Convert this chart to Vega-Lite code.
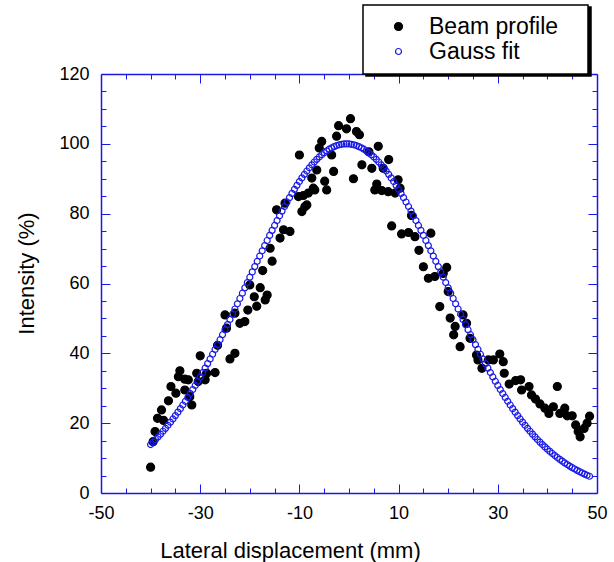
{
"$schema": "https://vega.github.io/schema/vega-lite/v6.json",
"width": 496, "height": 419,
"autosize": "none",
"padding": {"left": 101, "top": 74, "right": 17, "bottom": 69},
"background": "white",
"config": {"view": {"stroke": null}, "font": "Liberation Sans",
  "legend": {"orient": "none", "padding": 10, "strokeWidth": 1.5, "labelFontSize": 23, "labelFont": "Liberation Sans", "labelColor": "black", "symbolOffset": 14, "labelOffset": 19, "rowPadding": 1, "symbolStrokeWidth": 1.2, "titleFontSize": 1, "titleOrient": "right", "titlePadding": 20}
},
"datasets": {
"pts": [
{"series":"Beam profile","x":-40.0,"y":7.4},{"series":"Beam profile","x":-39.5,"y":14.7},{"series":"Beam profile","x":-39.1,"y":17.6},{"series":"Beam profile","x":-38.6,"y":21.4},{"series":"Beam profile","x":-37.8,"y":23.8},{"series":"Beam profile","x":-37.4,"y":20.8},{"series":"Beam profile","x":-36.4,"y":26.4},{"series":"Beam profile","x":-35.9,"y":30.5},{"series":"Beam profile","x":-34.9,"y":28.6},{"series":"Beam profile","x":-34.4,"y":33.3},{"series":"Beam profile","x":-34.1,"y":35.0},{"series":"Beam profile","x":-33.1,"y":32.6},{"series":"Beam profile","x":-33.1,"y":29.5},{"series":"Beam profile","x":-32.4,"y":32.4},{"series":"Beam profile","x":-32.1,"y":27.6},{"series":"Beam profile","x":-31.7,"y":25.2},{"series":"Beam profile","x":-30.7,"y":34.3},{"series":"Beam profile","x":-30.4,"y":31.9},{"series":"Beam profile","x":-30.0,"y":39.3},{"series":"Beam profile","x":-29.0,"y":32.4},{"series":"Beam profile","x":-28.7,"y":34.3},{"series":"Beam profile","x":-27.0,"y":34.5},{"series":"Beam profile","x":-26.5,"y":42.3},{"series":"Beam profile","x":-25.0,"y":51.0},{"series":"Beam profile","x":-24.7,"y":47.2},{"series":"Beam profile","x":-24.0,"y":38.4},{"series":"Beam profile","x":-23.0,"y":40.0},{"series":"Beam profile","x":-23.0,"y":51.5},{"series":"Beam profile","x":-22.0,"y":48.6},{"series":"Beam profile","x":-21.0,"y":49.1},{"series":"Beam profile","x":-20.4,"y":52.4},{"series":"Beam profile","x":-20.0,"y":59.6},{"series":"Beam profile","x":-19.1,"y":56.2},{"series":"Beam profile","x":-18.6,"y":53.5},{"series":"Beam profile","x":-17.9,"y":58.8},{"series":"Beam profile","x":-17.4,"y":63.7},{"series":"Beam profile","x":-16.9,"y":55.3},{"series":"Beam profile","x":-16.5,"y":56.7},{"series":"Beam profile","x":-15.9,"y":70.1},{"series":"Beam profile","x":-15.5,"y":66.4},{"series":"Beam profile","x":-14.6,"y":81.1},{"series":"Beam profile","x":-13.9,"y":73.0},{"series":"Beam profile","x":-13.2,"y":75.4},{"series":"Beam profile","x":-12.9,"y":83.0},{"series":"Beam profile","x":-11.9,"y":74.9},{"series":"Beam profile","x":-10.2,"y":84.9},{"series":"Beam profile","x":-10.0,"y":96.8},{"series":"Beam profile","x":-9.5,"y":80.6},{"series":"Beam profile","x":-9.2,"y":85.2},{"series":"Beam profile","x":-8.9,"y":82.0},{"series":"Beam profile","x":-8.5,"y":82.5},{"series":"Beam profile","x":-8.2,"y":85.9},{"series":"Beam profile","x":-7.5,"y":90.2},{"series":"Beam profile","x":-7.2,"y":87.3},{"series":"Beam profile","x":-6.9,"y":86.8},{"series":"Beam profile","x":-6.5,"y":92.5},{"series":"Beam profile","x":-6.0,"y":98.8},{"series":"Beam profile","x":-5.5,"y":100.7},{"series":"Beam profile","x":-4.9,"y":89.3},{"series":"Beam profile","x":-4.5,"y":86.8},{"series":"Beam profile","x":-3.5,"y":96.8},{"series":"Beam profile","x":-3.1,"y":92.1},{"series":"Beam profile","x":-2.5,"y":102.2},{"series":"Beam profile","x":-2.1,"y":105.2},{"series":"Beam profile","x":-0.5,"y":104.3},{"series":"Beam profile","x":0.3,"y":107.2},{"series":"Beam profile","x":0.9,"y":90.0},{"series":"Beam profile","x":1.5,"y":103.5},{"series":"Beam profile","x":2.1,"y":102.6},{"series":"Beam profile","x":2.6,"y":94.0},{"series":"Beam profile","x":4.0,"y":97.7},{"series":"Beam profile","x":4.6,"y":93.0},{"series":"Beam profile","x":5.2,"y":86.8},{"series":"Beam profile","x":5.6,"y":88.5},{"series":"Beam profile","x":5.9,"y":99.3},{"series":"Beam profile","x":6.6,"y":86.6},{"series":"Beam profile","x":6.9,"y":93.0},{"series":"Beam profile","x":7.9,"y":86.3},{"series":"Beam profile","x":8.0,"y":95.5},{"series":"Beam profile","x":8.6,"y":76.5},{"series":"Beam profile","x":9.3,"y":85.9},{"series":"Beam profile","x":9.9,"y":89.7},{"series":"Beam profile","x":10.3,"y":87.3},{"series":"Beam profile","x":10.6,"y":74.2},{"series":"Beam profile","x":12.0,"y":74.6},{"series":"Beam profile","x":12.6,"y":79.5},{"series":"Beam profile","x":13.3,"y":73.4},{"series":"Beam profile","x":14.1,"y":69.5},{"series":"Beam profile","x":15.0,"y":64.8},{"series":"Beam profile","x":16.0,"y":61.5},{"series":"Beam profile","x":16.5,"y":74.4},{"series":"Beam profile","x":17.3,"y":62.0},{"series":"Beam profile","x":18.3,"y":53.4},{"series":"Beam profile","x":19.0,"y":62.9},{"series":"Beam profile","x":19.7,"y":64.6},{"series":"Beam profile","x":20.0,"y":57.7},{"series":"Beam profile","x":20.4,"y":50.1},{"series":"Beam profile","x":21.1,"y":45.3},{"series":"Beam profile","x":21.4,"y":47.7},{"series":"Beam profile","x":22.4,"y":41.9},{"series":"Beam profile","x":23.0,"y":51.0},{"series":"Beam profile","x":23.7,"y":48.6},{"series":"Beam profile","x":24.4,"y":44.3},{"series":"Beam profile","x":25.7,"y":39.5},{"series":"Beam profile","x":26.0,"y":38.1},{"series":"Beam profile","x":26.8,"y":35.7},{"series":"Beam profile","x":28.1,"y":38.1},{"series":"Beam profile","x":29.1,"y":38.1},{"series":"Beam profile","x":30.4,"y":39.8},{"series":"Beam profile","x":31.1,"y":37.6},{"series":"Beam profile","x":31.3,"y":34.3},{"series":"Beam profile","x":32.3,"y":31.2},{"series":"Beam profile","x":33.6,"y":32.2},{"series":"Beam profile","x":34.6,"y":32.4},{"series":"Beam profile","x":34.8,"y":29.5},{"series":"Beam profile","x":36.3,"y":30.5},{"series":"Beam profile","x":36.8,"y":28.1},{"series":"Beam profile","x":37.6,"y":26.9},{"series":"Beam profile","x":38.5,"y":25.5},{"series":"Beam profile","x":39.5,"y":24.3},{"series":"Beam profile","x":40.3,"y":22.8},{"series":"Beam profile","x":41.2,"y":24.7},{"series":"Beam profile","x":42.0,"y":30.5},{"series":"Beam profile","x":42.5,"y":22.8},{"series":"Beam profile","x":43.5,"y":24.3},{"series":"Beam profile","x":44.0,"y":22.1},{"series":"Beam profile","x":45.0,"y":22.1},{"series":"Beam profile","x":45.7,"y":19.5},{"series":"Beam profile","x":46.2,"y":17.6},{"series":"Beam profile","x":46.6,"y":16.1},{"series":"Beam profile","x":47.4,"y":18.5},{"series":"Beam profile","x":48.0,"y":20.0},{"series":"Beam profile","x":48.5,"y":22.0},
{"series":"Gauss fit","x":-40,"y":13.88},{"series":"Gauss fit","x":-39.5,"y":14.58},{"series":"Gauss fit","x":-39,"y":15.32},{"series":"Gauss fit","x":-38.5,"y":16.08},{"series":"Gauss fit","x":-38,"y":16.86},{"series":"Gauss fit","x":-37.5,"y":17.68},{"series":"Gauss fit","x":-37,"y":18.52},{"series":"Gauss fit","x":-36.5,"y":19.39},{"series":"Gauss fit","x":-36,"y":20.29},{"series":"Gauss fit","x":-35.5,"y":21.21},{"series":"Gauss fit","x":-35,"y":22.17},{"series":"Gauss fit","x":-34.5,"y":23.15},{"series":"Gauss fit","x":-34,"y":24.16},{"series":"Gauss fit","x":-33.5,"y":25.20},{"series":"Gauss fit","x":-33,"y":26.26},{"series":"Gauss fit","x":-32.5,"y":27.36},{"series":"Gauss fit","x":-32,"y":28.48},{"series":"Gauss fit","x":-31.5,"y":29.62},{"series":"Gauss fit","x":-31,"y":30.80},{"series":"Gauss fit","x":-30.5,"y":32.00},{"series":"Gauss fit","x":-30,"y":33.24},{"series":"Gauss fit","x":-29.5,"y":34.49},{"series":"Gauss fit","x":-29,"y":35.77},{"series":"Gauss fit","x":-28.5,"y":37.06},{"series":"Gauss fit","x":-28,"y":38.39},{"series":"Gauss fit","x":-27.5,"y":39.74},{"series":"Gauss fit","x":-27,"y":41.11},{"series":"Gauss fit","x":-26.5,"y":42.50},{"series":"Gauss fit","x":-26,"y":43.90},{"series":"Gauss fit","x":-25.5,"y":45.33},{"series":"Gauss fit","x":-25,"y":46.77},{"series":"Gauss fit","x":-24.5,"y":48.23},{"series":"Gauss fit","x":-24,"y":49.70},{"series":"Gauss fit","x":-23.5,"y":51.19},{"series":"Gauss fit","x":-23,"y":52.69},{"series":"Gauss fit","x":-22.5,"y":54.19},{"series":"Gauss fit","x":-22,"y":55.70},{"series":"Gauss fit","x":-21.5,"y":57.22},{"series":"Gauss fit","x":-21,"y":58.75},{"series":"Gauss fit","x":-20.5,"y":60.27},{"series":"Gauss fit","x":-20,"y":61.80},{"series":"Gauss fit","x":-19.5,"y":63.32},{"series":"Gauss fit","x":-19,"y":64.84},{"series":"Gauss fit","x":-18.5,"y":66.36},{"series":"Gauss fit","x":-18,"y":67.86},{"series":"Gauss fit","x":-17.5,"y":69.36},{"series":"Gauss fit","x":-17,"y":70.85},{"series":"Gauss fit","x":-16.5,"y":72.32},{"series":"Gauss fit","x":-16,"y":73.78},{"series":"Gauss fit","x":-15.5,"y":75.22},{"series":"Gauss fit","x":-15,"y":76.63},{"series":"Gauss fit","x":-14.5,"y":78.03},{"series":"Gauss fit","x":-14,"y":79.40},{"series":"Gauss fit","x":-13.5,"y":80.74},{"series":"Gauss fit","x":-13,"y":82.05},{"series":"Gauss fit","x":-12.5,"y":83.34},{"series":"Gauss fit","x":-12,"y":84.59},{"series":"Gauss fit","x":-11.5,"y":85.80},{"series":"Gauss fit","x":-11,"y":86.97},{"series":"Gauss fit","x":-10.5,"y":88.11},{"series":"Gauss fit","x":-10,"y":89.20},{"series":"Gauss fit","x":-9.5,"y":90.25},{"series":"Gauss fit","x":-9,"y":91.26},{"series":"Gauss fit","x":-8.5,"y":92.22},{"series":"Gauss fit","x":-8,"y":93.13},{"series":"Gauss fit","x":-7.5,"y":93.99},{"series":"Gauss fit","x":-7,"y":94.79},{"series":"Gauss fit","x":-6.5,"y":95.55},{"series":"Gauss fit","x":-6,"y":96.24},{"series":"Gauss fit","x":-5.5,"y":96.88},{"series":"Gauss fit","x":-5,"y":97.47},{"series":"Gauss fit","x":-4.5,"y":97.99},{"series":"Gauss fit","x":-4,"y":98.46},{"series":"Gauss fit","x":-3.5,"y":98.87},{"series":"Gauss fit","x":-3,"y":99.21},{"series":"Gauss fit","x":-2.5,"y":99.50},{"series":"Gauss fit","x":-2,"y":99.72},{"series":"Gauss fit","x":-1.5,"y":99.87},{"series":"Gauss fit","x":-1,"y":99.97},{"series":"Gauss fit","x":-0.5,"y":100.0},{"series":"Gauss fit","x":0,"y":99.97},{"series":"Gauss fit","x":0.5,"y":99.87},{"series":"Gauss fit","x":1,"y":99.72},{"series":"Gauss fit","x":1.5,"y":99.50},{"series":"Gauss fit","x":2,"y":99.21},{"series":"Gauss fit","x":2.5,"y":98.87},{"series":"Gauss fit","x":3,"y":98.46},{"series":"Gauss fit","x":3.5,"y":97.99},{"series":"Gauss fit","x":4,"y":97.47},{"series":"Gauss fit","x":4.5,"y":96.88},{"series":"Gauss fit","x":5,"y":96.24},{"series":"Gauss fit","x":5.5,"y":95.55},{"series":"Gauss fit","x":6,"y":94.79},{"series":"Gauss fit","x":6.5,"y":93.99},{"series":"Gauss fit","x":7,"y":93.13},{"series":"Gauss fit","x":7.5,"y":92.22},{"series":"Gauss fit","x":8,"y":91.26},{"series":"Gauss fit","x":8.5,"y":90.25},{"series":"Gauss fit","x":9,"y":89.20},{"series":"Gauss fit","x":9.5,"y":88.11},{"series":"Gauss fit","x":10,"y":86.97},{"series":"Gauss fit","x":10.5,"y":85.80},{"series":"Gauss fit","x":11,"y":84.59},{"series":"Gauss fit","x":11.5,"y":83.34},{"series":"Gauss fit","x":12,"y":82.05},{"series":"Gauss fit","x":12.5,"y":80.74},{"series":"Gauss fit","x":13,"y":79.40},{"series":"Gauss fit","x":13.5,"y":78.03},{"series":"Gauss fit","x":14,"y":76.63},{"series":"Gauss fit","x":14.5,"y":75.22},{"series":"Gauss fit","x":15,"y":73.78},{"series":"Gauss fit","x":15.5,"y":72.32},{"series":"Gauss fit","x":16,"y":70.85},{"series":"Gauss fit","x":16.5,"y":69.36},{"series":"Gauss fit","x":17,"y":67.86},{"series":"Gauss fit","x":17.5,"y":66.36},{"series":"Gauss fit","x":18,"y":64.84},{"series":"Gauss fit","x":18.5,"y":63.32},{"series":"Gauss fit","x":19,"y":61.80},{"series":"Gauss fit","x":19.5,"y":60.27},{"series":"Gauss fit","x":20,"y":58.75},{"series":"Gauss fit","x":20.5,"y":57.22},{"series":"Gauss fit","x":21,"y":55.70},{"series":"Gauss fit","x":21.5,"y":54.19},{"series":"Gauss fit","x":22,"y":52.69},{"series":"Gauss fit","x":22.5,"y":51.19},{"series":"Gauss fit","x":23,"y":49.70},{"series":"Gauss fit","x":23.5,"y":48.23},{"series":"Gauss fit","x":24,"y":46.77},{"series":"Gauss fit","x":24.5,"y":45.33},{"series":"Gauss fit","x":25,"y":43.90},{"series":"Gauss fit","x":25.5,"y":42.50},{"series":"Gauss fit","x":26,"y":41.11},{"series":"Gauss fit","x":26.5,"y":39.74},{"series":"Gauss fit","x":27,"y":38.39},{"series":"Gauss fit","x":27.5,"y":37.06},{"series":"Gauss fit","x":28,"y":35.77},{"series":"Gauss fit","x":28.5,"y":34.49},{"series":"Gauss fit","x":29,"y":33.24},{"series":"Gauss fit","x":29.5,"y":32.00},{"series":"Gauss fit","x":30,"y":30.80},{"series":"Gauss fit","x":30.5,"y":29.62},{"series":"Gauss fit","x":31,"y":28.48},{"series":"Gauss fit","x":31.5,"y":27.36},{"series":"Gauss fit","x":32,"y":26.26},{"series":"Gauss fit","x":32.5,"y":25.20},{"series":"Gauss fit","x":33,"y":24.16},{"series":"Gauss fit","x":33.5,"y":23.15},{"series":"Gauss fit","x":34,"y":22.17},{"series":"Gauss fit","x":34.5,"y":21.21},{"series":"Gauss fit","x":35,"y":20.29},{"series":"Gauss fit","x":35.5,"y":19.39},{"series":"Gauss fit","x":36,"y":18.52},{"series":"Gauss fit","x":36.5,"y":17.68},{"series":"Gauss fit","x":37,"y":16.86},{"series":"Gauss fit","x":37.5,"y":16.08},{"series":"Gauss fit","x":38,"y":15.32},{"series":"Gauss fit","x":38.5,"y":14.58},{"series":"Gauss fit","x":39,"y":13.88},{"series":"Gauss fit","x":39.5,"y":13.20},{"series":"Gauss fit","x":40,"y":12.54},{"series":"Gauss fit","x":40.5,"y":11.91},{"series":"Gauss fit","x":41,"y":11.31},{"series":"Gauss fit","x":41.5,"y":10.72},{"series":"Gauss fit","x":42,"y":10.16},{"series":"Gauss fit","x":42.5,"y":9.63},{"series":"Gauss fit","x":43,"y":9.12},{"series":"Gauss fit","x":43.5,"y":8.62},{"series":"Gauss fit","x":44,"y":8.15},{"series":"Gauss fit","x":44.5,"y":7.70},{"series":"Gauss fit","x":45,"y":7.28},{"series":"Gauss fit","x":45.5,"y":6.87},{"series":"Gauss fit","x":46,"y":6.48},{"series":"Gauss fit","x":46.5,"y":6.10},{"series":"Gauss fit","x":47,"y":5.75},{"series":"Gauss fit","x":47.5,"y":5.41},{"series":"Gauss fit","x":48,"y":5.09},{"series":"Gauss fit","x":48.5,"y":4.79}
]
},
"data": {"name": "pts"},
"layer": [
{
 "mark": {"type": "point", "filled": false, "strokeWidth": 1.2, "opacity": 1},
 "encoding": {
  "x": {"field": "x", "type": "quantitative", "scale": {"domain": [-50, 50], "nice": false, "zero": false},
   "axis": {"orient": "bottom", "title": "Lateral displacement (mm)", "values": [-50,-45,-40,-35,-30,-25,-20,-15,-10,-5,0,5,10,15,20,25,30,35,40,45,50],
    "labelExpr": "(datum.value + 50) % 20 == 0 ? '' + datum.value : ''", "labelOverlap": false, "labelFlush": false, "labelFontSize": 18, "labelColor": "black", "labelPadding": 20,
    "tickSize": {"condition": {"test": "(datum.value + 50) % 20 == 0", "value": -9}, "value": -5},
    "tickColor": "#1a1ae6", "domainColor": "#1a1ae6", "domainWidth": 1.5, "tickWidth": 1, "grid": false,
    "titleFontSize": 22, "titleFontWeight": "normal", "titleColor": "black", "titleX": 189, "titleY": 64, "titleBaseline": "alphabetic", "titleAlign": "center", "titleAnchor": null}},
  "y": {"field": "y", "type": "quantitative", "scale": {"domain": [0, 120], "nice": false, "zero": false},
   "axis": {"orient": "left", "title": "Intensity (%)", "values": [0,5,10,15,20,25,30,35,40,45,50,55,60,65,70,75,80,85,90,95,100,105,110,115,120],
    "labelExpr": "datum.value % 20 == 0 ? '' + datum.value : ''", "labelOverlap": false, "labelFlush": false, "labelFontSize": 18, "labelColor": "black", "labelPadding": 21,
    "tickSize": {"condition": {"test": "datum.value % 20 == 0", "value": -9}, "value": -5},
    "tickColor": "#1a1ae6", "domainColor": "#1a1ae6", "domainWidth": 1.5, "tickWidth": 1, "grid": false,
    "titleFontSize": 22, "titleFontWeight": "normal", "titleColor": "black", "titleX": -68, "titleY": 199, "titleAngle": -90, "titleBaseline": "alphabetic", "titleAlign": "center", "titleAnchor": null}},
  "stroke": {"field": "series", "type": "nominal", "scale": {"domain": ["Beam profile", "Gauss fit"], "range": ["#000000", "#1a1ae6"]},
   "legend": {"title": " ", "legendX": 262, "legendY": -69, "fillColor": "white", "strokeColor": "black", "zindex": 2}},
  "fill": {"field": "series", "type": "nominal", "scale": {"domain": ["Beam profile", "Gauss fit"], "range": ["#000000", "transparent"]},
   "legend": {"title": " ", "legendX": 262, "legendY": -69, "fillColor": "white", "strokeColor": "black", "zindex": 2}},
  "size": {"field": "series", "type": "nominal", "scale": {"domain": ["Beam profile", "Gauss fit"], "range": [64, 36]},
   "legend": {"title": " ", "legendX": 262, "legendY": -69, "fillColor": "white", "strokeColor": "black", "zindex": 2}}
 }
},
{
 "mark": {"type": "point", "opacity": 0},
 "encoding": {
  "x": {"field": "x", "type": "quantitative", "scale": {"domain": [-50, 50], "nice": false, "zero": false},
   "axis": {"orient": "top", "title": null, "labels": false, "values": [-50,-45,-40,-35,-30,-25,-20,-15,-10,-5,0,5,10,15,20,25,30,35,40,45,50],
    "tickSize": {"condition": {"test": "(datum.value + 50) % 20 == 0", "value": -9}, "value": -5},
    "tickColor": "#1a1ae6", "domainColor": "#1a1ae6", "domainWidth": 1.5, "tickWidth": 1, "grid": false}},
  "y": {"field": "y", "type": "quantitative", "scale": {"domain": [0, 120], "nice": false, "zero": false},
   "axis": {"orient": "right", "title": null, "labels": false, "values": [0,5,10,15,20,25,30,35,40,45,50,55,60,65,70,75,80,85,90,95,100,105,110,115,120],
    "tickSize": {"condition": {"test": "datum.value % 20 == 0", "value": -9}, "value": -5},
    "tickColor": "#1a1ae6", "domainColor": "#1a1ae6", "domainWidth": 1.5, "tickWidth": 1, "grid": false}},
  "shape": {"field": "series", "type": "nominal", "scale": {"domain": ["Gauss fit", "Beam profile"]},
   "legend": {"title": " ", "legendX": 265, "legendY": -67, "fillColor": "black", "strokeColor": "black", "zindex": 1, "symbolSize": 64, "symbolOpacity": 0, "labelOpacity": 0, "labelExpr": "''", "labelOffset": 148}}
 }
}
],
"resolve": {"axis": {"x": "independent", "y": "independent"}}
}
